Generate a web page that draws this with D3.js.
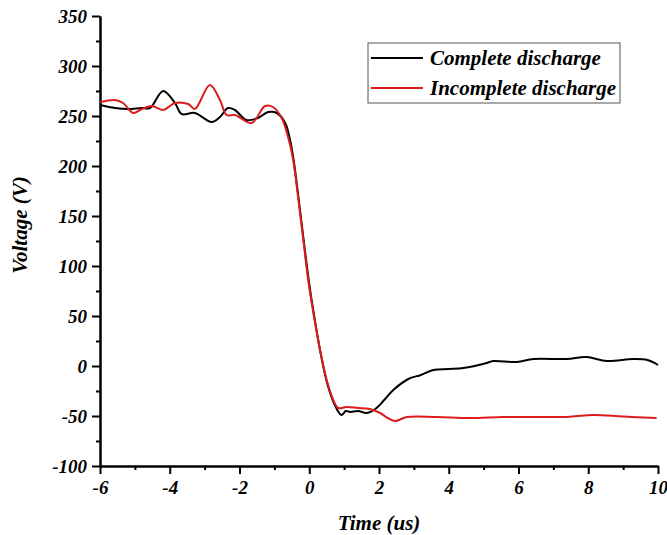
<!DOCTYPE html>
<html lang="en">
<head>
    <meta charset="UTF-8">
    <title>Voltage</title>
    <script src="https://cdn.jsdelivr.net/npm/d3@7"></script>
    <style>
        body { margin: 0; background: #fff; }
    </style>
</head>
<body>
<div id="chart"></div>

<script>
    // data (time in us, voltage in V)
    var completeT = [-6, -5.57, -5.2, -4.8, -4.57, -4.19, -3.85, -3.66, -3.28, -2.8, -2.56, -2.33, -2.13, -1.8, -1.47, -1.18, -0.93, -0.69, -0.55,
        -0.44, -0.29, -0.15, 0, 0.15, 0.33, 0.52, 0.72, 0.92, 1.05, 1.17, 1.4, 1.65, 1.93, 2.15, 2.41, 2.84, 3.2, 3.56, 4.0, 4.42, 5.09, 5.28, 5.95,
        6.43, 7.38, 7.95, 8.53, 9.29, 9.7, 10];
    var completeV = [261, 258, 257, 258, 258, 275, 263, 252, 253, 244, 249, 258, 256, 246, 248, 254, 253, 243, 226,
        204, 163, 123, 82, 48, 12, -18, -38, -49, -45, -46, -45, -47, -42, -34, -24, -13, -9, -4, -3, -2, 3, 5, 4,
        7, 7, 9, 5, 7, 6, 1];

    var incompleteT = [-6, -5.57, -5.34, -5.05, -4.8, -4.52, -4.19, -3.85, -3.47, -3.28, -2.85, -2.56, -2.37, -2.13, -1.65, -1.27, -1.04, -0.79, -0.6,
        -0.46, -0.31, -0.17, -0.03, 0.12, 0.31, 0.5, 0.69, 0.83, 1.07, 1.4, 1.74, 2.03, 2.25, 2.46, 2.8, 3.65, 4.61, 5.56, 6.5, 7.48, 8.14, 9.0, 9.96];
    var incompleteV = [264, 266, 263, 253, 257, 260, 256, 263, 262, 257, 281, 266, 251, 251, 243, 260, 259, 248, 228,
        206, 166, 126, 86, 53, 16, -14, -34, -42, -41, -42, -43, -47, -52, -55, -51, -51, -52, -51, -51, -50.7, -49, -50.5, -52];

    var xTicks = [-6, -4, -2, 0, 2, 4, 6, 8, 10];
    var yTicks = [-100, -50, 0, 50, 100, 150, 200, 250, 300, 350];
    var seriesNames = ["Complete discharge", "Incomplete discharge"];
    var seriesColors = ["#000000", "#dc1c1c"];

    var FONT = "'Liberation Serif', 'Times New Roman', serif";

    var W = 667, H = 535;
    var margin = {top: 16, right: 9, bottom: 69, left: 100};
    var width = W - margin.left - margin.right,
        height = H - margin.top - margin.bottom;

    var svg = d3.select("#chart").append("svg")
        .attr("width", W)
        .attr("height", H);

    var g = svg.append("g")
        .attr("transform", "translate(" + margin.left + "," + margin.top + ")");

    var x = d3.scaleLinear().domain([-6, 10]).range([0, width]);
    var y = d3.scaleLinear().domain([-100, 350]).range([height, 0]);

    // minor ticks
    g.append("g")
        .attr("class", "axis minor")
        .attr("transform", "translate(0," + height + ")")
        .call(d3.axisBottom(x).tickValues(d3.range(-5, 10, 2)).tickSize(4).tickSizeOuter(0).tickFormat(""));
    g.append("g")
        .attr("class", "axis minor")
        .call(d3.axisLeft(y).tickValues(d3.range(-75, 350, 50)).tickSize(4).tickSizeOuter(0).tickFormat(""));

    // major ticks
    g.append("g")
        .attr("class", "axis major")
        .attr("transform", "translate(0," + height + ")")
        .call(d3.axisBottom(x).tickValues(xTicks).tickSize(8).tickSizeOuter(0).tickPadding(7));
    g.append("g")
        .attr("class", "axis major")
        .call(d3.axisLeft(y).tickValues(yTicks).tickSize(8).tickSizeOuter(0).tickPadding(5));

    g.selectAll(".axis path, .axis line")
        .attr("stroke", "#000")
        .attr("stroke-width", 2);
    g.selectAll(".major text")
        .attr("fill", "#000")
        .style("font-family", FONT)
        .style("font-weight", "bold")
        .style("font-style", "italic")
        .style("font-size", "19px")
        .text(function(d) { return String(d); });

    // curves
    var line = d3.line()
        .x(function(d) { return x(d[0]); })
        .y(function(d) { return y(d[1]); })
        .curve(d3.curveCatmullRom.alpha(0.5));

    var complete = d3.zip(completeT, completeV);
    var incomplete = d3.zip(incompleteT, incompleteV);

    g.append("path")
        .datum(complete)
        .attr("fill", "none")
        .attr("stroke", seriesColors[0])
        .attr("stroke-width", 2)
        .attr("d", line);

    g.append("path")
        .datum(incomplete)
        .attr("fill", "none")
        .attr("stroke", seriesColors[1])
        .attr("stroke-width", 2)
        .attr("d", line);

    function styleText(sel, size) {
        sel.style("font-family", FONT)
            .style("font-weight", "bold")
            .style("font-style", "italic")
            .style("font-size", size + "px");
    }

    // axis titles
    svg.append("text")
        .attr("x", 379)
        .attr("y", 530)
        .attr("text-anchor", "middle")
        .call(styleText, 21)
        .text("Time (us)");

    svg.append("text")
        .attr("transform", "translate(27,225) rotate(-90)")
        .attr("text-anchor", "middle")
        .call(styleText, 21)
        .text("Voltage (V)");

    // legend
    var legend = svg.append("g").attr("transform", "translate(368,43)");
    legend.append("rect")
        .attr("width", 252)
        .attr("height", 60)
        .attr("fill", "#fff")
        .attr("stroke", "#555")
        .attr("stroke-width", 1);

    seriesNames.forEach(function(name, i) {
        var yy = 15 + i * 30;
        legend.append("line")
            .attr("x1", 3).attr("x2", 55)
            .attr("y1", yy).attr("y2", yy)
            .attr("stroke", seriesColors[i])
            .attr("stroke-width", 2);
        legend.append("text")
            .attr("x", 62)
            .attr("y", yy + 7)
            .call(styleText, 21)
            .text(name);
    });
</script>
</body>
</html>
